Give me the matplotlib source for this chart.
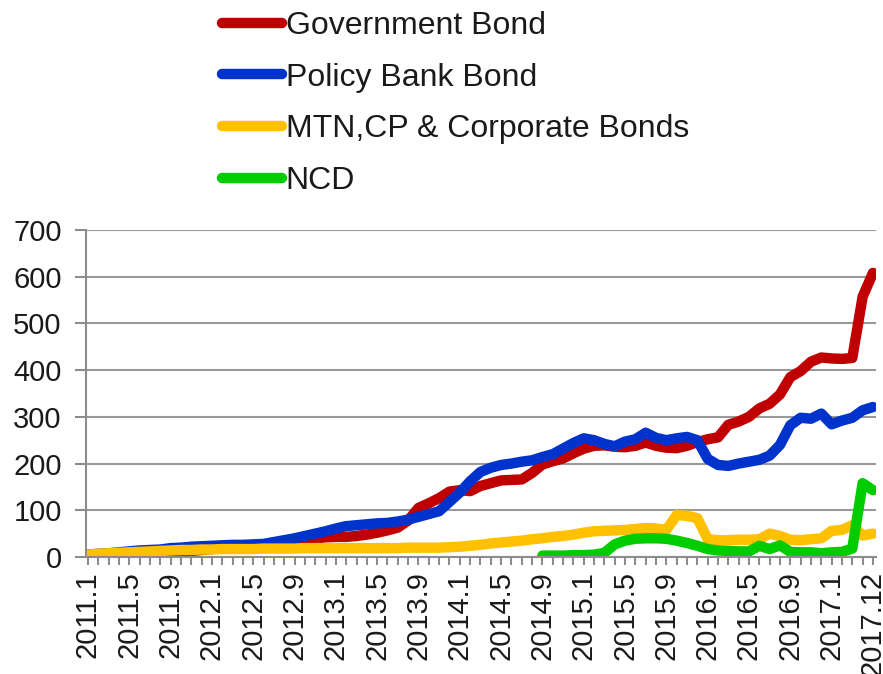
import numpy as np
import matplotlib
matplotlib.use('Agg')
import matplotlib.pyplot as plt

plt.rcParams['font.family'] = ['Liberation Sans', 'DejaVu Sans']

# categories: monthly 2011.1 - 2017.1, then the last few 2017 points
months = [f'{y}.{m}' for y in range(2011, 2017) for m in range(1, 13)] + ['2017.1']
months = months + ['2017.3', '2017.6', '2017.9', '2017.12']

gov = [3, 3, 4, 4, 5, 5, 6, 7, 9, 11, 13, 15, 17, 19, 20, 21, 22, 24, 27, 30,
       33, 37, 40, 42, 43, 43, 45, 48, 52, 57, 63, 78, 105, 115, 126, 140, 143, 141, 152, 158,
       164, 165, 166, 180, 198, 205, 211, 222, 232, 238, 239, 236, 235, 238, 245, 238, 234, 233, 238, 246,
       252, 256, 283, 290, 300, 318, 328, 348, 385, 398, 418, 427, 425, 424, 426, 557, 608]
policy = [5, 7, 8, 10, 12, 14, 15, 16, 19, 20, 22, 23, 24, 25, 26, 26, 27, 28, 32, 36,
          40, 45, 50, 55, 61, 66, 68, 70, 72, 73, 76, 80, 86, 92, 98, 118, 138, 162, 182, 191,
          197, 200, 204, 207, 214, 220, 232, 244, 254, 250, 242, 237, 247, 252, 266, 255, 250, 254, 257, 250,
          210, 197, 195, 200, 204, 208, 217, 240, 282, 298, 296, 307, 284, 292, 298, 314, 321]
corp = [5, 7, 8, 9, 10, 11, 12, 13, 14, 15, 15, 16, 16, 17, 17, 17, 17, 18, 18, 18,
        18, 19, 19, 19, 19, 19, 19, 19, 19, 19, 19, 20, 20, 20, 20, 21, 22, 24, 26, 29,
        31, 33, 35, 38, 40, 43, 45, 48, 52, 55, 56, 57, 58, 60, 62, 61, 58, 90, 88, 83,
        38, 36, 36, 37, 37, 38, 50, 45, 37, 36, 38, 40, 56, 58, 68, 46, 50]
ncd = [None] * 44 + [3, 3, 3, 4, 4, 5, 9, 27, 35, 39, 40, 40, 39, 35, 30, 24,
                     17, 14, 13, 12, 12, 24, 17, 25, 11, 10, 10, 8, 10, 11, 18, 158, 143]

series = [
    ('Government Bond', gov, '#C00000'),
    ('Policy Bank Bond', policy, '#0033CC'),
    ('MTN,CP & Corporate Bonds', corp, '#FFC000'),
    ('NCD', ncd, '#00CC00'),
]

fig = plt.figure(figsize=(8.83, 6.74), dpi=100)
ax = fig.add_axes([0.0974, 0.1736, 0.8946, 0.4852])

x = np.arange(len(months))
for name, vals, col in series:
    y = np.array([np.nan if v is None else v for v in vals], dtype=float)
    ax.plot(x, y, color=col, lw=7.5, label=name,
            solid_capstyle='round', solid_joinstyle='round')

ax.set_xlim(-0.19, len(months) - 1 + 0.29)
ax.set_ylim(0, 700)
ax.set_yticks(range(0, 701, 100))
ax.yaxis.grid(True, color='#999999', lw=1.5)
ax.set_axisbelow(True)

ax.set_xticks(x, minor=True)
ax.set_xticks(x[::4])
ax.set_xticklabels(months[::4], rotation=90)
ax.tick_params(axis='x', which='both', length=6, width=1.5, color='#8c8c8c', pad=4)
ax.tick_params(axis='y', length=8, width=1.5, color='#8c8c8c', pad=9.5)
ax.tick_params(labelsize=21, labelcolor='#1a1a1a')

for s in ['top', 'right']:
    ax.spines[s].set_visible(False)
for s in ['left', 'bottom']:
    ax.spines[s].set_color('#8c8c8c')
    ax.spines[s].set_linewidth(1.5)

leg = fig.legend(loc='upper left', bbox_to_anchor=(0.251, 0.984), frameon=False,
                 fontsize=23, handlelength=1.9, handletextpad=0.1,
                 labelspacing=0.68, borderpad=0, borderaxespad=0)
for t in leg.get_texts():
    t.set_color('#1a1a1a')

fig.savefig('out.png', dpi=100)
